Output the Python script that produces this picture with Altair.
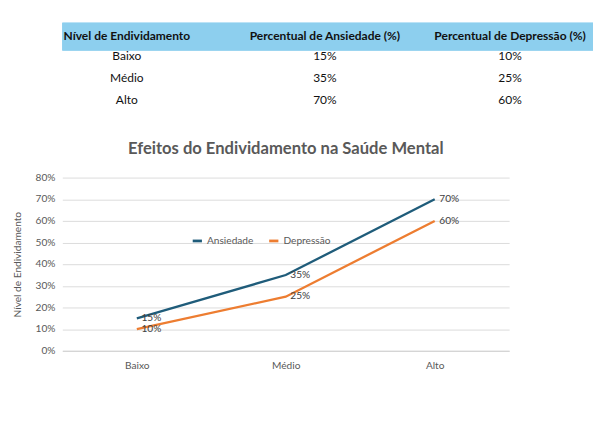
import altair as alt
import pandas as pd

niveis = ["Baixo", "Médio", "Alto"]
ansiedade = [0.15, 0.35, 0.70]
depressao = [0.10, 0.25, 0.60]
cabecalho = ["Nível de Endividamento", "Percentual de Ansiedade (%)", "Percentual de Depressão (%)"]

FONT = "Lato"

# ---- table ----
tab = pd.DataFrame({
    "linha": niveis,
    "c0": niveis,
    "c1": [f"{round(a*100)}%" for a in ansiedade],
    "c2": [f"{round(d*100)}%" for d in depressao],
})
head = pd.DataFrame({"c": cabecalho})
col_x = [70, 285, 486]

yrow = alt.Y("linha:N", sort=niveis, axis=None,
             scale=alt.Scale(type="point", domain=[" "] + niveis, padding=0.5))

band = alt.Chart(head).mark_rect(color="#8DCFEE").encode(
    x=alt.value(0), x2=alt.value(576), y=alt.value(0), y2=alt.value(30)
)
layers = [band]
for i, x in enumerate(col_x):
    layers.append(alt.Chart(head.iloc[[i]]).mark_text(
        font=FONT, fontSize=13, fontWeight="bold", color="#111").encode(
        x=alt.value(x), y=alt.value(15), text="c:N"))
    layers.append(alt.Chart(tab).mark_text(font=FONT, fontSize=13, color="#111").encode(
        x=alt.value(x), y=yrow, text=f"c{i}:N"))
table = alt.layer(*layers).properties(width=576, height=96)

# ---- line chart ----
df = pd.DataFrame(
    [{"nivel": n, "serie": "Ansiedade", "v": a} for n, a in zip(niveis, ansiedade)]
    + [{"nivel": n, "serie": "Depressão", "v": d} for n, d in zip(niveis, depressao)]
)

base = alt.Chart(df).encode(
    x=alt.X("nivel:N", sort=niveis, title=None,
            scale=alt.Scale(type="point", padding=0.5),
            axis=alt.Axis(labelAngle=0, domainColor="#d0d0d0", ticks=False, labelPadding=10)),
    y=alt.Y("v:Q", title="Nível de Endividamento",
            scale=alt.Scale(domain=[0, 0.8]),
            axis=alt.Axis(format=".0%", tickCount=8, domain=False, ticks=False,
                          gridColor="#d9d9d9", labelPadding=8, titlePadding=14)),
    color=alt.Color("serie:N",
                    scale=alt.Scale(domain=["Ansiedade", "Depressão"], range=["#1F5C7A", "#ED7D31"]),
                    legend=alt.Legend(title=None, orient="none", legendX=140, legendY=230,
                                      direction="horizontal", symbolType="stroke",
                                      symbolStrokeWidth=3, labelFontSize=11,
                                      labelColor="#595959")),
)
lines = base.mark_line(strokeWidth=2.5)
labels = base.mark_text(align="left", dx=5, baseline="middle", font=FONT, fontSize=11).encode(
    text=alt.Text("v:Q", format=".0%"), color=alt.value("#404040"))

linechart = (lines + labels).properties(
    width=485, height=188,
    title=alt.TitleParams("Efeitos do Endividamento na Saúde Mental", fontSize=18,
                          font=FONT, fontWeight="bold", color="#595959", offset=16, anchor="middle"),
)

chart = alt.vconcat(table, linechart, spacing=32).properties(padding={"left": 4, "top": 0, "right": 0, "bottom": 0}).configure_view(
    stroke=None
).configure_axis(
    labelFont=FONT, titleFont=FONT, labelColor="#595959", titleColor="#595959",
    labelFontSize=11, titleFontSize=11, titleFontWeight="normal"
).configure_legend(labelFont=FONT)

chart.save("out.html", embed_options={"renderer": "svg", "actions": False})
